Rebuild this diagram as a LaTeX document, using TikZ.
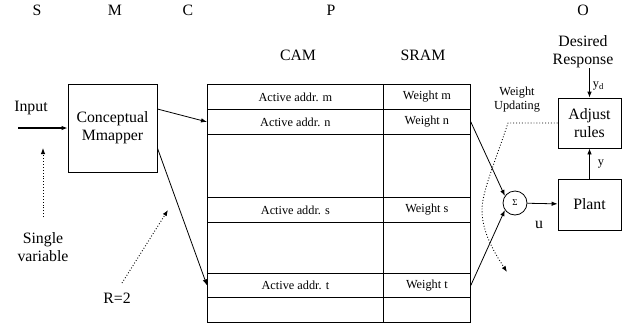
\documentclass[tikz,border=0pt]{standalone}
\usepackage{fontspec}
\setmainfont{Liberation Serif}
\usetikzlibrary{calc,arrows.meta}
\tikzset{
  big/.style={font=\fontsize{15.8}{18}\selectfont, inner sep=0pt},
  small/.style={font=\fontsize{12.3}{14}\selectfont, inner sep=0pt},
  box/.style={draw, line width=0.8pt, inner sep=0pt},
  cell/.style={
    draw,
    line width=0.8pt,
    inner sep=0pt,
    anchor=north west,
    font=\fontsize{12.3}{14}\selectfont
  },
  link/.style={draw, line width=0.8pt, -{Latex[length=6pt,width=4.5pt]}},
  hint/.style={draw, line width=0.9pt, dotted, -{Latex[length=6pt,width=4.5pt]}}
}

\begin{document}
\begin{tikzpicture}[x=1pt,y=-1pt]
  \useasboundingbox (0,0) rectangle (639,327);

  % stage letters along the top
  \foreach \l/\x in {S/37,M/115,C/188,P/331,O/583}
    \node[big] (stage\l) at (\x,10) {\l};

  \node[big] (camhead) at (298,55) {CAM};
  \node[big] (sramhead) at (423,55) {SRAM};
  \node[big, align=center] (resp) at (583,52) {Desired\\Response};

  % memory table, one row per pass
  \foreach \r/\y/\h/\ca/\sr in {m/84/25/Active addr. m/Weight m,
      n/109/25/Active addr. n/Weight n, ea/134/63//,
      s/197/25/Active addr. s/Weight s, eb/222/51//,
      t/273/24/Active addr. t/Weight t, ec/297/25//} {
    \node[cell, minimum width=176pt, minimum height=\h pt] (cam\r) at (207,\y) {\ca};
    \node[cell, minimum width=87pt, minimum height=\h pt] (sram\r) at (383,\y) {\sr};
  }

  \node[box, big, minimum width=89pt, minimum height=88pt, align=center] (mapper) at (112.5,128) {Conceptual\\Mmapper};
  \node[big] (input) at (31,108) {Input};
  \coordinate (instart) at (18,128);
  \draw[link, line width=2pt] (instart) -- (mapper.west);

  \node[big, align=center] (single) at (43,247) {Single\\variable};
  \coordinate (singlefoot) at (43,217);
  \coordinate (singletip) at (43,148);
  \draw[hint] (singlefoot) -- (singletip);

  \node[big] (radius) at (117,298) {R=2};
  \coordinate (radfoot) at (122,283);
  \coordinate (radtip) at (168,210);
  \draw[hint] (radfoot) -- (radtip);

  \draw[link] ([yshift=19pt]mapper.east) -- (camn.west);
  \draw[link] ([yshift=-20pt]mapper.east) -- (camt.west);

  % output side
  \node[draw, circle, line width=0.8pt, minimum size=24pt, inner sep=0pt, font=\fontsize{9}{10}\selectfont] (sum) at (515,203) {Σ};
  \node[box, big, minimum width=63pt, minimum height=51pt] (plant) at (589.5,204.5) {Plant};
  \node[box, big, minimum width=63pt, minimum height=50pt, align=center] (adjust) at (589.5,123) {Adjust\\rules};

  \draw[link] (sramn.east) -- (sum.145);
  \draw[link] (sramt.east) -- (sum.215);
  \draw[link] (sum) -- (plant);
  \node[big] (u) at (539,225) {u};
  \draw[link] (plant) -- (adjust) node[small, midway, right=8pt] {y};
  \draw[link] (resp.south -| adjust.north) -- (adjust.north) node[small, pos=0.6, right=3pt] {y\textsubscript{d}};

  \node[small, align=center] (wupd) at (517,100) {Weight\\Updating};
  \coordinate (updtip) at (507,272);
  \draw[hint] (adjust.west) -- (508,123) .. controls (494,165) and (482,192) .. (482,210)
    .. controls (482,232) and (494,252) .. (updtip);
\end{tikzpicture}
\end{document}
